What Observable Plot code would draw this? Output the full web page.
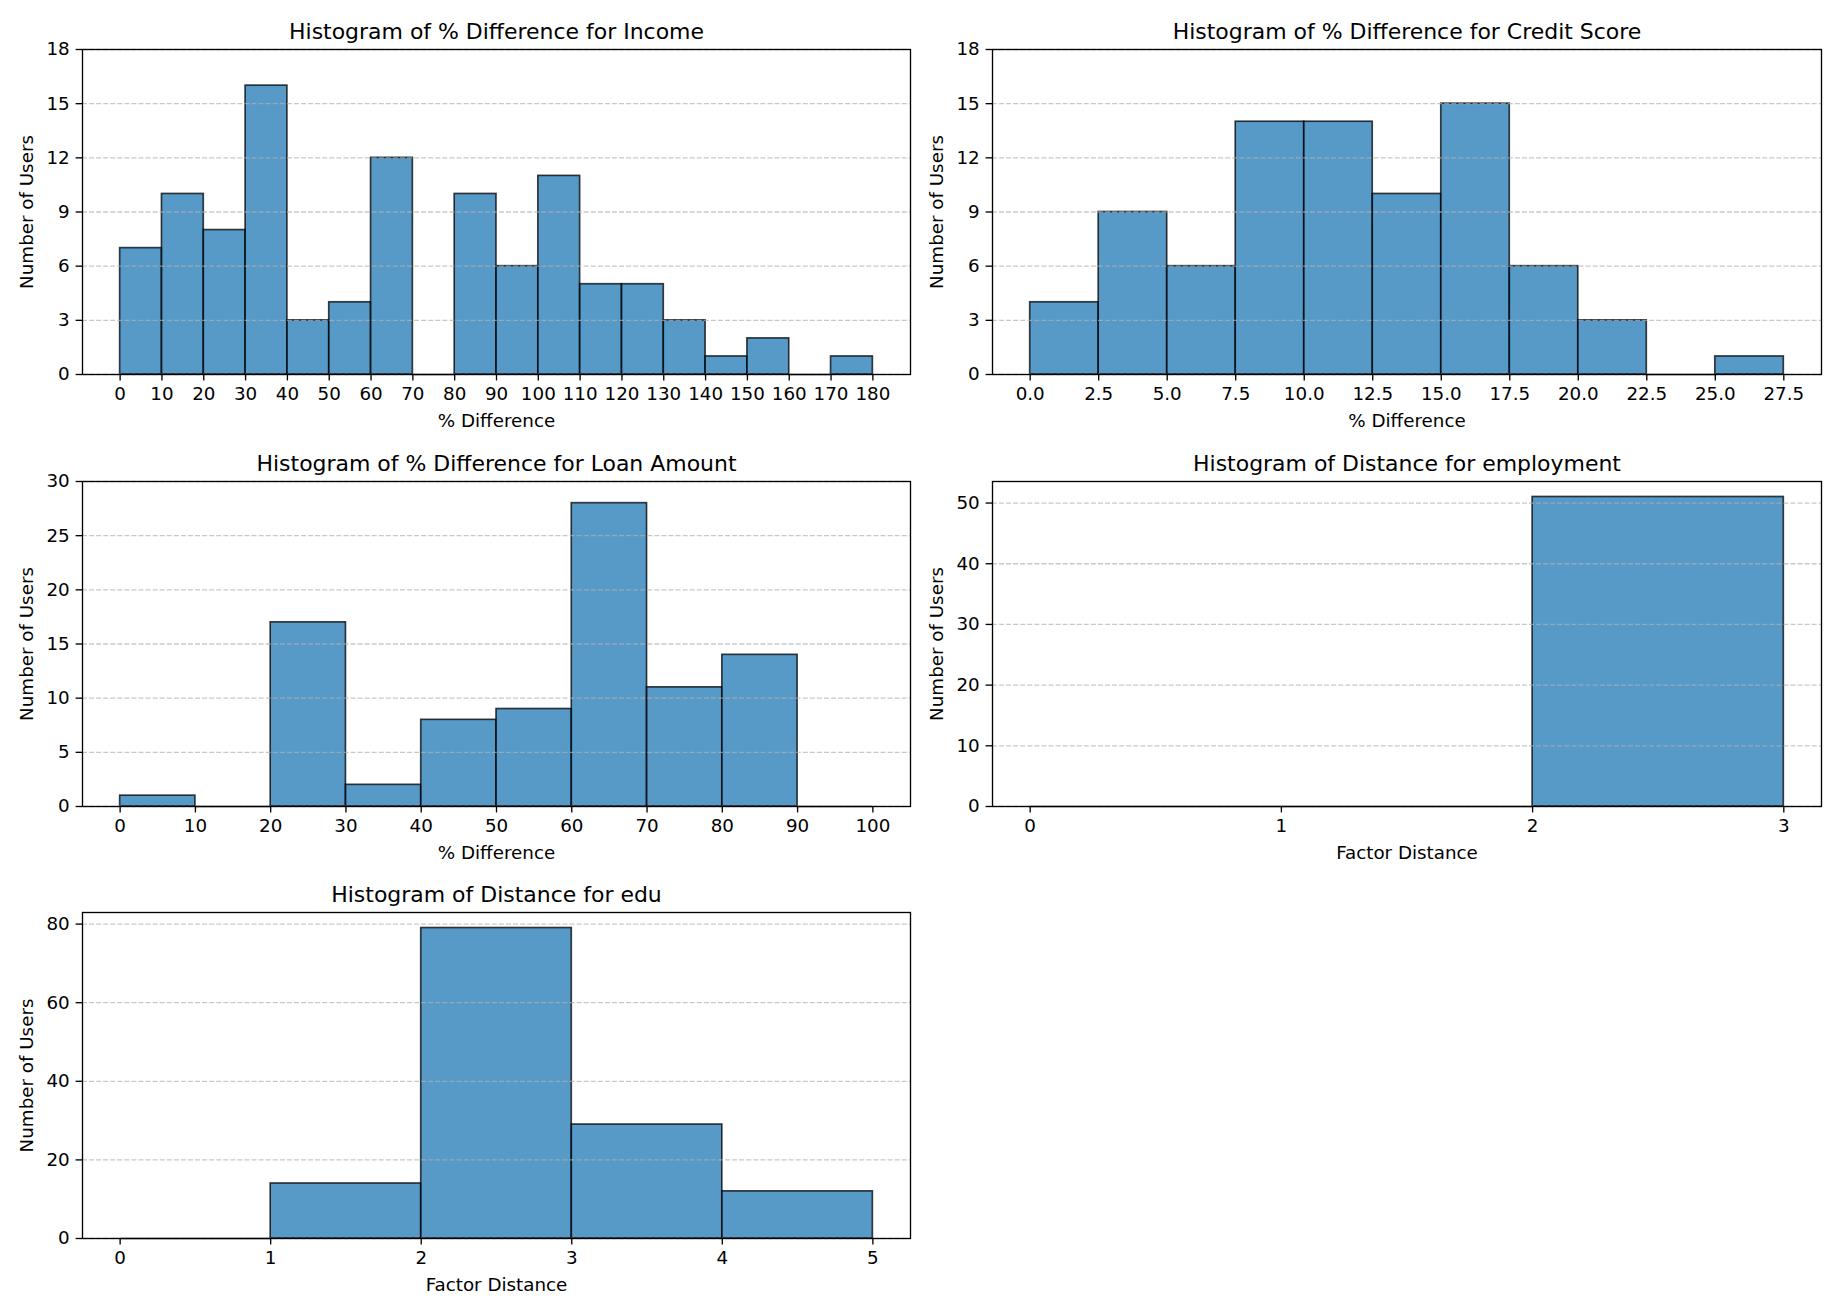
<!DOCTYPE html>
<html><head><meta charset="utf-8">
<script src="https://cdn.jsdelivr.net/npm/d3@7"></script>
<script src="https://cdn.jsdelivr.net/npm/@observablehq/plot@0.6"></script>
<style>
body{margin:0;background:#fff}
#fig{position:relative;width:1841px;height:1315px;background:#fff}
#fig svg{position:absolute}
</style>
</head><body><div id="fig"></div>
<script>
// ---- data ----
const incomeEdges = [0,10,20,30,40,50,60,70,80,90,100,110,120,130,140,150,160,170,180];
const incomeCounts = [7,10,8,16,3,4,12,0,10,6,11,5,5,3,1,2,0,1];
const incomeTicksX = [0,10,20,30,40,50,60,70,80,90,100,110,120,130,140,150,160,170,180];
const incomeTicksY = [0,3,6,9,12,15,18];

const creditEdges = [0,2.5,5,7.5,10,12.5,15,17.5,20,22.5,25,27.5];
const creditCounts = [4,9,6,14,14,10,15,6,3,0,1];
const creditTicksX = [0,2.5,5,7.5,10,12.5,15,17.5,20,22.5,25,27.5];
const creditTicksY = [0,3,6,9,12,15,18];

const loanEdges = [0,10,20,30,40,50,60,70,80,90,100];
const loanCounts = [1,0,17,2,8,9,28,11,14,0];
const loanTicksX = [0,10,20,30,40,50,60,70,80,90,100];
const loanTicksY = [0,5,10,15,20,25,30];

const employmentEdges = [0,1,2,3];
const employmentCounts = [0,0,51];
const employmentTicksX = [0,1,2,3];
const employmentTicksY = [0,10,20,30,40,50];

const eduEdges = [0,1,2,3,4,5];
const eduCounts = [0,14,79,29,12];
const eduTicksX = [0,1,2,3,4,5];
const eduTicksY = [0,20,40,60,80];

const titles = [
  "Histogram of % Difference for Income",
  "Histogram of % Difference for Credit Score",
  "Histogram of % Difference for Loan Amount",
  "Histogram of Distance for employment",
  "Histogram of Distance for edu"
];
const xLabels = ["% Difference","% Difference","% Difference","Factor Distance","Factor Distance"];
const yLabel = "Number of Users";

// ---- drawing ----
const PT = 120/72;   // line scale
const FT = 1.83;     // font/tick scale
const fig = document.getElementById("fig");

function hist(o) {
  const bins = o.counts.map((c, i) => ({x1: o.edges[i], x2: o.edges[i+1], y: c}));
  const empty = bins.filter(d => d.y === 0);
  const svg = Plot.plot({
    width: o.width, height: o.height,
    marginLeft: o.ml, marginRight: o.mr, marginTop: o.mt, marginBottom: o.mb,
    style: {fontFamily: "DejaVu Sans", fontSize: (10*FT) + "px", color: "black", background: "white"},
    x: {domain: o.xDomain},
    y: {domain: o.yDomain},
    marks: [
      Plot.rectY(bins, {x1: "x1", x2: "x2", y: "y", fill: "#1f77b4", fillOpacity: 0.75,
        stroke: "black", strokeOpacity: 0.75, strokeWidth: 1.0*PT}),
      Plot.ruleY(empty, {x1: "x1", x2: "x2", y: "y", stroke: "black", strokeOpacity: 0.75, strokeWidth: 1.0*PT}),
      Plot.gridY(o.yTicks, {stroke: "#b0b0b0", strokeOpacity: 0.7, strokeWidth: 0.8*PT,
        strokeDasharray: `${3.7*0.8*PT},${1.6*0.8*PT}`}),
      Plot.frame({stroke: "black", strokeWidth: 0.8*PT}),
      Plot.axisX({ticks: o.xTicks, tickSize: 3.5*FT, tickPadding: 3.5*FT, strokeWidth: 0.8*PT,
        tickFormat: o.xFormat, label: null}),
      Plot.axisY({ticks: o.yTicks, tickSize: 3.5*FT, tickPadding: 3.5*FT, strokeWidth: 0.8*PT,
        tickFormat: d3.format("d"), label: null}),
      Plot.text([o.title], {text: d => d, frameAnchor: "top", lineAnchor: "bottom", dy: -6*FT, fontSize: 12*FT}),
      Plot.text([o.xlabel], {text: d => d, frameAnchor: "bottom", lineAnchor: "middle", dy: 46.5}),
      Plot.text([yLabel], {text: d => d, frameAnchor: "left", lineAnchor: "middle", textAnchor: "middle", rotate: -90, dx: -55})
    ]
  });
  svg.style.position = "absolute";
  svg.style.left = o.left + "px";
  svg.style.top = o.top + "px";
  fig.appendChild(svg);
}

const colL = {left: 0, width: 920, ml: 82, mr: 10};
const colR = {left: 920, width: 921, ml: 72, mr: 20};
const row1 = {top: 0, height: 437, mt: 49, mb: 63};
const row2 = {top: 437, height: 437, mt: 44, mb: 68};
const row3 = {top: 874, height: 441, mt: 38, mb: 77};

hist({...colL, ...row1, title: titles[0], xlabel: xLabels[0], edges: incomeEdges, counts: incomeCounts,
  xDomain: [-9, 189], xTicks: incomeTicksX, yDomain: [0, 18], yTicks: incomeTicksY, xFormat: d3.format("d")});
hist({...colR, ...row1, title: titles[1], xlabel: xLabels[1], edges: creditEdges, counts: creditCounts,
  xDomain: [-1.375, 28.875], xTicks: creditTicksX, yDomain: [0, 18], yTicks: creditTicksY, xFormat: d3.format(".1f")});
hist({...colL, ...row2, title: titles[2], xlabel: xLabels[2], edges: loanEdges, counts: loanCounts,
  xDomain: [-5, 105], xTicks: loanTicksX, yDomain: [0, 30], yTicks: loanTicksY, xFormat: d3.format("d")});
hist({...colR, ...row2, title: titles[3], xlabel: xLabels[3], edges: employmentEdges, counts: employmentCounts,
  xDomain: [-0.15, 3.15], xTicks: employmentTicksX, yDomain: [0, 53.55], yTicks: employmentTicksY, xFormat: d3.format("d")});
hist({...colL, ...row3, title: titles[4], xlabel: xLabels[4], edges: eduEdges, counts: eduCounts,
  xDomain: [-0.25, 5.25], xTicks: eduTicksX, yDomain: [0, 82.95], yTicks: eduTicksY, xFormat: d3.format("d")});
</script></body></html>
